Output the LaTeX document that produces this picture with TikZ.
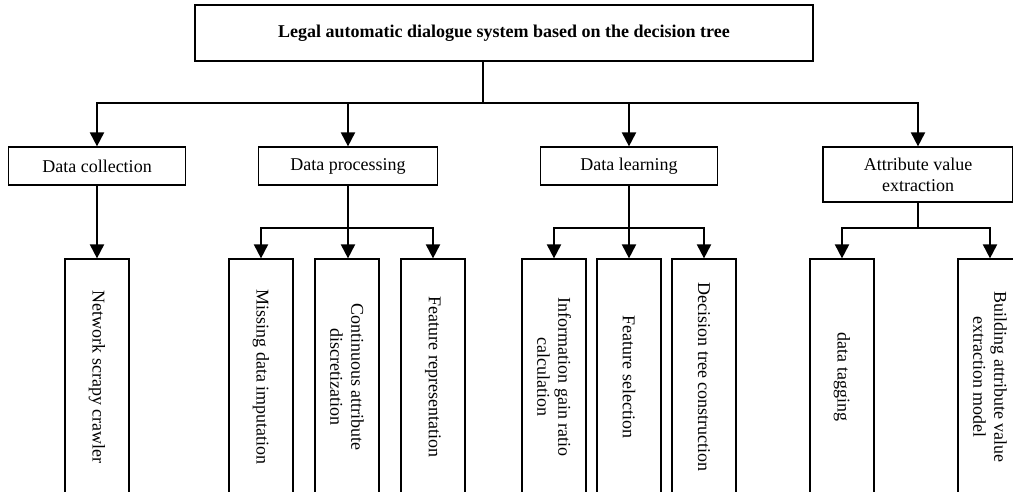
\documentclass[tikz,border=0pt]{standalone}
\usepackage{fontspec}
\setmainfont{Liberation Serif}
\usetikzlibrary{arrows.meta}
\begin{document}
\begin{tikzpicture}[x=1pt,y=-1pt,
  box/.style={draw, line width=1.2pt, inner sep=0pt, align=center,
    font=\fontsize{18}{21}\selectfont},
  leafbox/.style={box, minimum width=64pt, minimum height=236pt},
  leaftext/.style={rotate=-90, align=center, font=\fontsize{18}{21}\selectfont, inner sep=0pt},
  arr/.style={line width=1.9pt, -{Triangle[length=14pt,width=14pt]}},
  wire/.style={line width=1.9pt}]
\useasboundingbox (0,0) rectangle (1013,491);
\clip (0,0) rectangle (1013,491);

% root
\node[box, minimum width=618pt, minimum height=56pt, font=\fontsize{18}{21}\selectfont\bfseries]
  (root) at (504,33) {Legal automatic dialogue system based on the decision tree};

% stages
\node[box, minimum width=177pt, minimum height=38pt] (dc) at (97,166) {Data collection};
\node[box, minimum width=179pt, minimum height=38pt] (dp) at (348,166) {Data processing};
\node[box, minimum width=177pt, minimum height=38pt] (dl) at (629,166) {Data learning};
\node[box, minimum width=190pt, minimum height=55pt] (av) at (918,174.5) {Attribute value\\extraction};

% leaves
\node[leafbox] (l1) at (97,377) {};
\node[leafbox] (l2) at (261,377) {};
\node[leafbox] (l3) at (347,377) {};
\node[leafbox] (l4) at (433,377) {};
\node[leafbox] (l5) at (554,377) {};
\node[leafbox] (l6) at (629,377) {};
\node[leafbox] (l7) at (704,377) {};
\node[leafbox] (l8) at (842,377) {};
\node[leafbox] (l9) at (990,377) {};

\node[leaftext] at (l1) {Network scrapy crawler};
\node[leaftext] at (l2) {Missing data imputation};
\node[leaftext] at (l3) {Continuous attribute\\discretization};
\node[leaftext] at (l4) {Feature representation};
\node[leaftext] at (l5) {Information gain ratio\\calculation};
\node[leaftext] at (l6) {Feature selection};
\node[leaftext] at (l7) {Decision tree construction};
\node[leaftext] at (l8) {data tagging};
\node[leaftext] at (l9) {Building attribute value\\extraction model};

% junctions
\coordinate (j0) at (483,103);
\coordinate (j2) at (348,228);
\coordinate (j3) at (629,228);
\coordinate (j4) at (918,228);

% root to stages
\draw[wire] (j0 |- root.south) -- (j0);
\draw[arr] (j0) -| (dc.north);
\draw[arr] (j0) -| (dp.north);
\draw[arr] (j0) -| (dl.north);
\draw[arr] (j0) -| (av.north);

% stages to leaves
\draw[arr] (dc.south) -- (l1.north);

\draw[wire] (j2 |- dp.south) -- (j2);
\draw[arr] (j2) -| (l2.north);
\draw[arr] (j2) -- (j2 |- l3.north);
\draw[arr] (j2) -| (l4.north);

\draw[wire] (j3 |- dl.south) -- (j3);
\draw[arr] (j3) -| (l5.north);
\draw[arr] (j3) -- (l6.north);
\draw[arr] (j3) -| (l7.north);

\draw[wire] (j4 |- av.south) -- (j4);
\draw[arr] (j4) -| (l8.north);
\draw[arr] (j4) -| (l9.north);
\end{tikzpicture}
\end{document}
